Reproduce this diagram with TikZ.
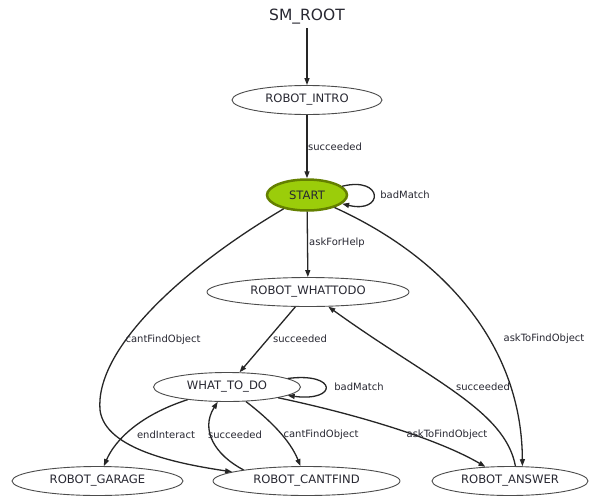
\documentclass[tikz,border=0pt]{standalone}
\usepackage{fontspec}
\setmainfont{DejaVu Sans}
\usetikzlibrary{shapes.geometric,arrows.meta}
\definecolor{startfill}{RGB}{155,205,10}
\definecolor{startdraw}{RGB}{100,128,0}
\definecolor{txt}{RGB}{40,40,50}
\begin{document}
\begin{tikzpicture}[x=1pt,y=-1pt,
  state/.style={ellipse,draw=black!70,line width=0.9pt,inner sep=0pt,
    font=\fontsize{11.6}{13}\selectfont,text=txt},
  edge/.style={line width=1.3pt,draw=black!85,-{Triangle[length=7pt,width=5pt]}},
  elabel/.style={font=\fontsize{10}{11}\selectfont,text=txt,inner sep=0pt}]
\useasboundingbox[fill=white] (0,0) rectangle (595,496);
% nodes
\node[font=\fontsize{15.5}{17}\selectfont,text=txt] (root) at (307,17) {SM\_ROOT};
\node[state,minimum width=150pt,minimum height=29pt] (intro) at (307,100) {ROBOT\_INTRO};
\node[state,minimum width=80pt,minimum height=31pt,fill=startfill,draw=startdraw,line width=2.5pt] (start) at (307,195) {START};
\node[state,minimum width=202pt,minimum height=29pt] (whattodo) at (308,292) {ROBOT\_WHATTODO};
\node[state,minimum width=147pt,minimum height=29pt] (wtd) at (227,387) {WHAT\_TO\_DO};
\node[state,minimum width=171pt,minimum height=29pt] (garage) at (97.5,481) {ROBOT\_GARAGE};
\node[state,minimum width=187pt,minimum height=29pt] (cantfind) at (306.5,481) {ROBOT\_CANTFIND};
\node[state,minimum width=156pt,minimum height=29pt] (answer) at (510,481) {ROBOT\_ANSWER};
% edges
\draw[edge] (root) -- (intro);
\draw[edge] (intro) -- (start);
\draw[edge] (start.14) .. controls (384,176) and (384,214) .. (start.-14);
\draw[edge] (start) -- (whattodo);
\draw[edge] (start) .. controls (180,270) and (95,350) .. (100,410)
  .. controls (105,450) and (180,464) .. (cantfind.173);
\draw[edge] (start) .. controls (450,260) and (522,350) .. (answer.50);
\draw[edge] (whattodo) -- (wtd);
\draw[edge] (answer.70) .. controls (505,410) and (430,380) .. (whattodo);
\draw[edge] (wtd.8) .. controls (338,372) and (338,402) .. (wtd.-8);
\draw[edge] (wtd) .. controls (140,415) and (115,440) .. (garage);
\draw[edge] (cantfind.170) .. controls (215,455) and (200,430) .. (wtd);
\draw[edge] (wtd) .. controls (270,420) and (290,440) .. (cantfind);
\draw[edge] (wtd) .. controls (360,415) and (440,440) .. (answer.150);
% edge labels
\node[elabel] (l1) at (335,147) {succeeded};
\node[elabel] (l2) at (405,195) {badMatch};
\node[elabel] (l3) at (337,243) {askForHelp};
\node[elabel] (l4) at (163,340) {cantFindObject};
\node[elabel] (l5) at (544,339) {askToFindObject};
\node[elabel] (l6) at (300,339) {succeeded};
\node[elabel] (l7) at (483,387) {succeeded};
\node[elabel] (l8) at (359,387) {badMatch};
\node[elabel] (l9) at (166,435) {endInteract};
\node[elabel] (l10) at (235,435) {succeeded};
\node[elabel] (l11) at (321,435) {cantFindObject};
\node[elabel] (l12) at (447,435) {askToFindObject};
\end{tikzpicture}
\end{document}
